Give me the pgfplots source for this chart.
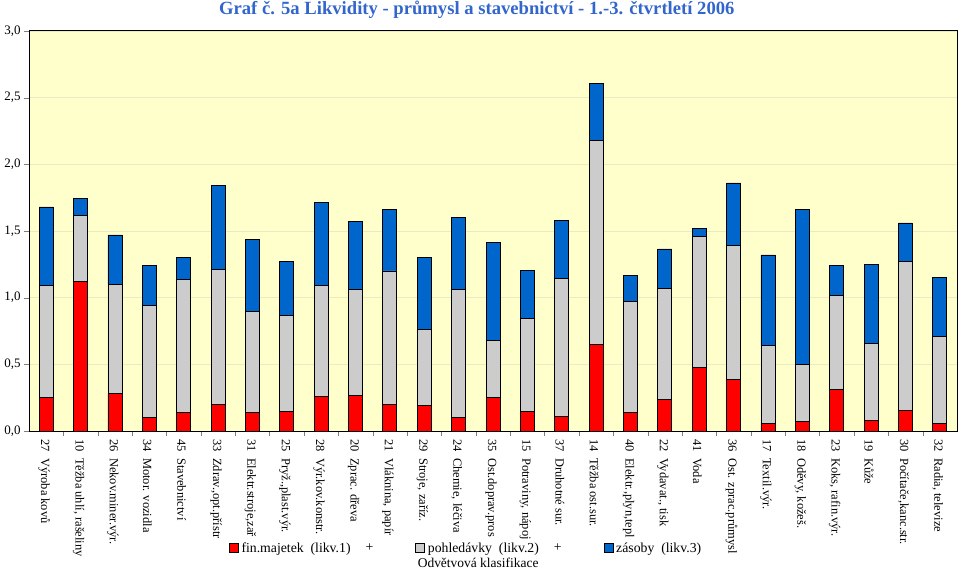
\documentclass[border=0pt]{standalone}
\usepackage{fontspec}
\setmainfont{Liberation Serif}
\usepackage{pgfplots}
\usepackage{pgfplotstable}
\pgfplotsset{compat=1.18}

\definecolor{bgyellow}{RGB}{255,255,204}
\definecolor{gridc}{RGB}{236,234,196}
\definecolor{redbar}{RGB}{255,0,0}
\definecolor{graybar}{RGB}{204,204,204}
\definecolor{bluebar}{RGB}{0,102,204}
\definecolor{titleblue}{RGB}{51,102,204}

% x, fin.majetek, pohledavky (prirustek), zasoby (prirustek)
\pgfplotstableread{
x  fin    pohl   zas
1  0.255  0.840  0.585
2  1.120  0.495  0.130
3  0.280  0.820  0.370
4  0.100  0.840  0.300
5  0.140  1.000  0.160
6  0.200  1.010  0.630
7  0.137  0.763  0.535
8  0.147  0.723  0.400
9  0.260  0.830  0.625
10 0.270  0.790  0.510
11 0.197  1.003  0.460
12 0.195  0.570  0.535
13 0.100  0.965  0.535
14 0.250  0.430  0.735
15 0.150  0.695  0.360
16 0.107  1.036  0.437
17 0.650  1.530  0.425
18 0.140  0.835  0.190
19 0.240  0.828  0.297
20 0.480  0.980  0.060
21 0.390  1.000  0.470
22 0.057  0.583  0.680
23 0.070  0.430  1.160
24 0.315  0.705  0.220
25 0.080  0.580  0.590
26 0.152  1.118  0.290
27 0.055  0.655  0.440
}\likv

\begin{document}
\begin{tikzpicture}
\begin{axis}[
    scale only axis,
    width=928bp, height=400bp,
    ybar stacked,
    bar width=14bp,
    xmin=0.5, xmax=27.5,
    ymin=0, ymax=3,
    ytick={0,0.5,...,3},
    xtick={1,...,27},
    minor xtick={1.5,2.5,...,26.5},
    xticklabels={{27\ \ Výroba kovů},{10\ \ Těžba uhlí, rašeliny},{26\ \ Nekov.miner.výr.},
      {34\ \ Motor. vozidla},{45\ \ Stavebnictví},{33\ \ Zdrav.,opt.přístr},
      {31\ \ Elektr.stroje,zař},{25\ \ Pryž.,plast.výr.},{28\ \ Výr.kov.konstr.},
      {20\ \ Zprac. dřeva},{21\ \ Vláknina, papír},{29\ \ Stroje, zaříz.},
      {24\ \ Chemie, léčiva},{35\ \ Ost.doprav.pros},{15\ \ Potraviny, nápoj},
      {37\ \ Druhotné sur.},{14\ \ Těžba ost.sur.},{40\ \ Elektr.,plyn,tepl},
      {22\ \ Vydavat., tisk},{41\ \ Voda},{36\ \ Ost. zprac.průmysl},
      {17\ \ Textil.výr.},{18\ \ Oděvy, kožeš.},{23\ \ Koks, rafin.výr.},
      {19\ \ Kůže},{30\ \ Počítače,kanc.str.},{32\ \ Radia, televize}},
    x tick label style={rotate=-90, anchor=west, yshift=-2bp, font=\fontsize{12.5}{14}\selectfont},
    y tick label style={font=\fontsize{13}{15}\selectfont},
    /pgf/number format/assume math mode=true,
    yticklabel style={/pgf/number format/.cd, fixed, fixed zerofill, precision=1, use comma},
    major x tick style={draw=none},
    tick align=outside,
    major tick length=5bp,
    minor tick length=5bp,
    xtick pos=bottom, ytick pos=left,
    axis line style={line width=1pt},
    ymajorgrids=true,
    grid style={gridc, line width=0.6pt},
    axis background/.style={fill=bgyellow},
    title={Graf č. 5a Likvidity - průmysl a stavebnictví - 1.-3. čtvrtletí 2006},
    title style={at={(axis description cs:0.4825,1.0275)}, anchor=base,
      font=\fontsize{18.7}{21}\selectfont\bfseries, text=titleblue},
    xlabel={Odvětvová klasifikace},
    xlabel style={at={(axis description cs:0.484,-0.33)}, anchor=center,
      font=\fontsize{13.5}{15}\selectfont},
    legend columns=5,
    legend style={at={(axis description cs:0.471,-0.2925)}, anchor=center,
      draw=none, fill=none, font=\fontsize{13.8}{15}\selectfont,
      /tikz/every odd column/.append style={column sep=1bp},
      /tikz/column 2/.style={column sep=10bp},
      /tikz/column 4/.style={column sep=40bp},
      /tikz/column 6/.style={column sep=10bp},
      /tikz/column 8/.style={column sep=40bp}},
    legend image code/.code={\draw[#1, line width=0.6pt] (0bp,-4.5bp) rectangle (9bp,4.5bp);},
]
\addplot[fill=redbar, draw=black, line width=0.8pt] table[x=x, y=fin] {\likv};
\addlegendentry{fin.majetek\ \ (likv.1)}
\addlegendimage{empty legend}
\addlegendentry{+}
\addplot[fill=graybar, draw=black, line width=0.8pt] table[x=x, y=pohl] {\likv};
\addlegendentry{pohledávky\ \ (likv.2)}
\addlegendimage{empty legend}
\addlegendentry{+}
\addplot[fill=bluebar, draw=black, line width=0.8pt] table[x=x, y=zas] {\likv};
\addlegendentry{zásoby\ \ (likv.3)}
\coordinate (bl) at (rel axis cs:0,0);
\coordinate (tr) at (rel axis cs:1,1);
\end{axis}
\pgfresetboundingbox
\path ([shift={(-29bp,-138bp)}]bl) rectangle ([shift={(3bp,31bp)}]tr);
\end{tikzpicture}
\end{document}
